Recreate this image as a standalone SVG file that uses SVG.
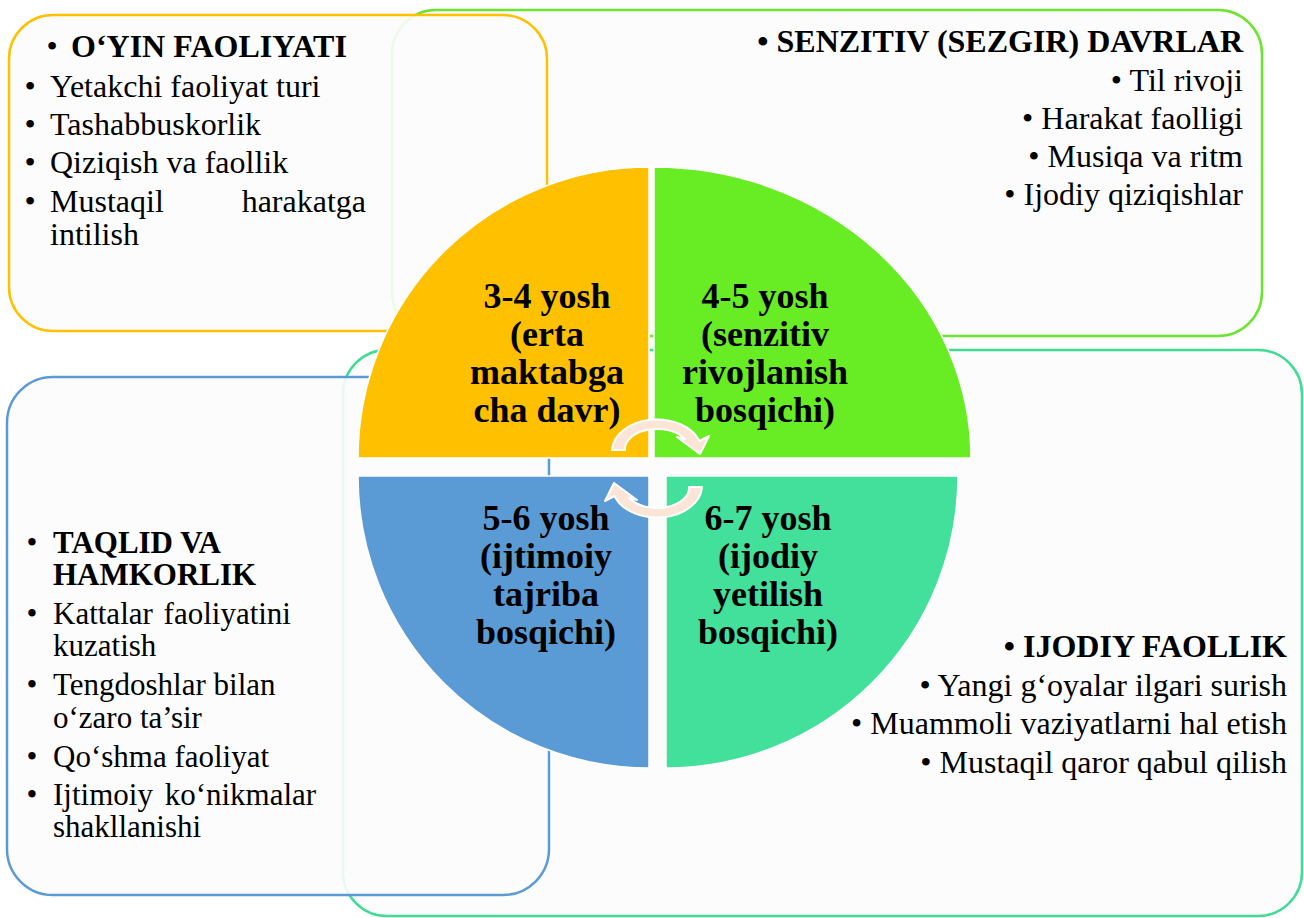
<svg xmlns="http://www.w3.org/2000/svg" width="1304" height="918" viewBox="0 0 1304 918" font-family="'Liberation Serif', Tinos, 'Times New Roman', Times, serif">
<style>
.box{stroke-width:2.5;fill:#FCFCFC;fill-opacity:0.9}
.t{font-family:'Liberation Serif',Tinos,'Times New Roman',Times,serif;font-size:32px;fill:#000}
.s{font-size:31px}
.m{text-anchor:middle}
.e{text-anchor:end}
.b{font-weight:bold}
.q{font-family:'Liberation Serif',Tinos,'Times New Roman',Times,serif;font-size:36px;font-weight:bold;text-anchor:middle;fill:#000}
.quad{stroke:#fff;stroke-width:1.5}
.arrow{fill:#FBE5D6;stroke:#fff;stroke-width:2;stroke-linejoin:round}
</style>
<rect width="1304" height="918" fill="#fff"/>

<g id="box-senzitiv">
<rect class="box" x="392" y="10" width="870" height="326" rx="44" stroke="#6BE52F"/>
<text class="t e b" x="1243" y="52">• SENZITIV (SEZGIR) DAVRLAR</text>
<text class="t e" x="1243" y="91">• Til rivoji</text>
<text class="t e" x="1243" y="129">• Harakat faolligi</text>
<text class="t e" x="1243" y="167">• Musiqa va ritm</text>
<text class="t e" x="1243" y="205">• Ijodiy qiziqishlar</text>
</g>

<g id="box-oyin">
<rect class="box" x="9" y="15" width="538" height="316" rx="44" stroke="#FFC000"/>
<text class="t m" x="52" y="57">•</text>
<text class="t b" x="71" y="57">O‘YIN FAOLIYATI</text>
<text class="t m" x="30" y="97">•</text>
<text class="t" x="50" y="97">Yetakchi faoliyat turi</text>
<text class="t m" x="30" y="135">•</text>
<text class="t" x="50" y="135">Tashabbuskorlik</text>
<text class="t m" x="30" y="173">•</text>
<text class="t" x="50" y="173">Qiziqish va faollik</text>
<text class="t m" x="30" y="212">•</text>
<text class="t" x="50" y="212">Mustaqil</text>
<text class="t e" x="366" y="212">harakatga</text>
<text class="t" x="50" y="245">intilish</text>
</g>

<g id="box-ijodiy">
<rect class="box" x="343" y="350" width="959" height="566" rx="44" stroke="#40DC96"/>
<text class="t e b" x="1287" y="657">• IJODIY FAOLLIK</text>
<text class="t e" x="1287" y="696">• Yangi g‘oyalar ilgari surish</text>
<text class="t e" x="1287" y="734">• Muammoli vaziyatlarni hal etish</text>
<text class="t e" x="1287" y="773">• Mustaqil qaror qabul qilish</text>
</g>

<g id="box-taqlid">
<rect class="box" x="7" y="377" width="542" height="518" rx="46" stroke="#5B9BD5"/>
<text class="t s m" x="32" y="553">•</text>
<text class="t s b" x="53" y="553">TAQLID VA</text>
<text class="t s b" x="53" y="585">HAMKORLIK</text>
<text class="t s m" x="32" y="624">•</text>
<text class="t s" x="53" y="624" word-spacing="3">Kattalar faoliyatini</text>
<text class="t s" x="53" y="656">kuzatish</text>
<text class="t s m" x="32" y="695">•</text>
<text class="t s" x="53" y="695">Tengdoshlar bilan</text>
<text class="t s" x="53" y="728">o‘zaro ta’sir</text>
<text class="t s m" x="32" y="767">•</text>
<text class="t s" x="53" y="767">Qo‘shma faoliyat</text>
<text class="t s m" x="32" y="805">•</text>
<text class="t s" x="53" y="805" word-spacing="4">Ijtimoiy ko‘nikmalar</text>
<text class="t s" x="53" y="837">shakllanishi</text>
</g>

<g id="q-3-4">
<path class="quad" d="M649 458 L358 458 A291 291 0 0 1 649 167 Z" fill="#FFC000"/>
<text class="q" x="547" y="308">3-4 yosh</text>
<text class="q" x="547" y="346">(erta</text>
<text class="q" x="547" y="384">maktabga</text>
<text class="q" x="547" y="422">cha davr)</text>
</g>
<g id="q-4-5">
<path class="quad" d="M654 458 L654 167 A317 291 0 0 1 971 458 Z" fill="#68ED24"/>
<text class="q" x="765" y="308">4-5 yosh</text>
<text class="q" x="765" y="346">(senzitiv</text>
<text class="q" x="765" y="384">rivojlanish</text>
<text class="q" x="765" y="422">bosqichi)</text>
</g>
<g id="q-5-6">
<path class="quad" d="M649 476 L649 768 A291 292 0 0 1 358 476 Z" fill="#5B9BD5"/>
<text class="q" x="546" y="530">5-6 yosh</text>
<text class="q" x="546" y="568">(ijtimoiy</text>
<text class="q" x="546" y="606">tajriba</text>
<text class="q" x="546" y="644">bosqichi)</text>
</g>
<g id="q-6-7">
<path class="quad" d="M666 476 L958 476 A292 292 0 0 1 666 768 Z" fill="#43E09B"/>
<text class="q" x="768" y="530">6-7 yosh</text>
<text class="q" x="768" y="568">(ijodiy</text>
<text class="q" x="768" y="606">yetilish</text>
<text class="q" x="768" y="644">bosqichi)</text>
</g>

<g id="connectors">
<path class="arrow" d="M612 450 A45 32 0 0 1 699.5 441 L709 436 L700 454 L677 437 L684.7 439 A32 20 0 0 0 625 450 Z"/>
<path class="arrow" transform="rotate(180 657 468.5)" d="M612 450 A45 32 0 0 1 699.5 441 L709 436 L700 454 L677 437 L684.7 439 A32 20 0 0 0 625 450 Z"/>
</g>
</svg>
